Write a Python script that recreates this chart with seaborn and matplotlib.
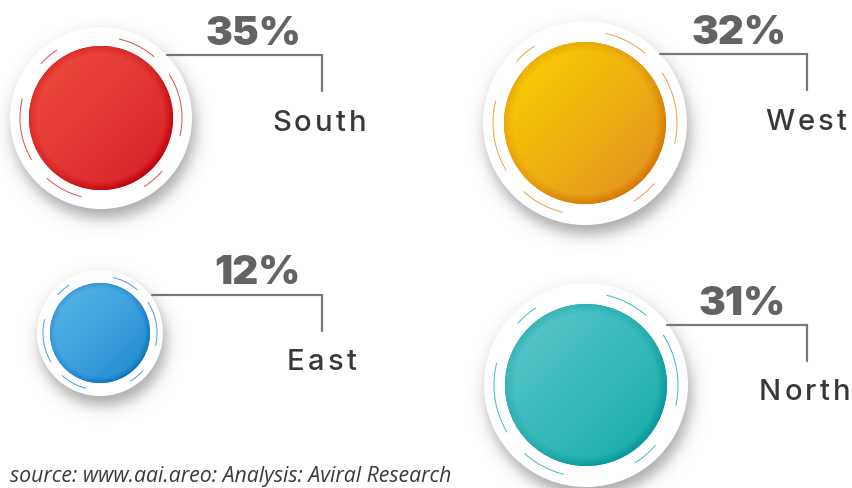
import numpy as np
import pandas as pd
import matplotlib
matplotlib.use("Agg")
import matplotlib.pyplot as plt
from matplotlib.patches import Circle
from matplotlib.colors import to_rgb
import seaborn as sns

# ---- data ----
regions = ["South", "West", "East", "North"]
shares = [35, 32, 12, 31]
share_labels = [f"{v}%" for v in shares]
source_note = "source: www.aai.areo: Analysis: Aviral Research"

# ---- layout (pixel coordinates, y grows downward) ----
W, H = 853, 488
centers = {"South": (101, 118), "West": (585, 123), "East": (100, 333), "North": (586, 385)}
bubble_r = {"South": 72, "West": 81, "East": 50, "North": 81}
plate_r = {"South": 91, "West": 102, "East": 63, "North": 102}
ring_r = {"South": 81, "West": 92, "East": 57, "North": 92}
connectors = {
    "South": [(167, 55), (322, 55), (322, 91)],
    "West": [(660, 54), (807, 54), (807, 90)],
    "East": [(152, 295), (322, 295), (322, 331)],
    "North": [(667, 325), (807, 325), (807, 361)],
}
pct_anchor = {"South": (253, 45), "West": (739, 44), "East": (257, 284), "North": (742, 315)}
name_anchor = {"South": (272, 131), "West": (765, 130), "East": (287, 370), "North": (759, 400)}
# light (top-left), deep (bottom-right), rim
colors = {
    "South": ("#F05040", "#D41F27", "#C2000C"),
    "West": ("#FDD600", "#DF8C22", "#D57800"),
    "East": ("#5DBAEA", "#1D88CE", "#0E72BC"),
    "North": ("#60C9D1", "#10AAA6", "#08979A"),
}
# decorative ring segments, degrees (counter-clockwise on screen)
ring_segments = [(123, 138), (49, 77), (-13, 33), (-58, -41), (-132, -104), (166, 211)]

sns.set_theme(style="white")
plt.rcParams["font.family"] = ["Inter", "DejaVu Sans"]

fig = plt.figure(figsize=(W / 100, H / 100), dpi=100)
ax = fig.add_axes([0, 0, 1, 1])
ax.set_xlim(0, W)
ax.set_ylim(H, 0)
ax.set_aspect("equal")
ax.axis("off")

# soft drop shadow under the white plates
yy, xx = np.mgrid[0:H, 0:W] + 0.5
shadow = np.zeros((H, W))
for reg in regions:
    cx, cy = centers[reg]
    d = np.hypot(xx - (cx + 3), yy - (cy + 9))
    a = 0.34 / (1 + np.exp((d - plate_r[reg]) / 4.5))
    shadow = np.maximum(shadow, a)
shadow_img = np.zeros((H, W, 4))
shadow_img[..., 3] = shadow
ax.imshow(shadow_img, extent=[0, W, H, 0], zorder=1, interpolation="bilinear")

for reg in regions:
    cx, cy = centers[reg]
    ax.add_patch(Circle((cx, cy), plate_r[reg], facecolor="white", edgecolor="none", zorder=2))

# base bubbles through seaborn
df = pd.DataFrame({
    "region": regions,
    "share": shares,
    "x": [centers[r][0] for r in regions],
    "y": [centers[r][1] for r in regions],
})
sizes = {r: (2 * bubble_r[r] * 0.72) ** 2 for r in regions}
sns.scatterplot(data=df, x="x", y="y", hue="region", size="region", sizes=sizes,
                palette={r: colors[r][2] for r in regions}, linewidth=0,
                legend=False, ax=ax, zorder=3)
ax.set_xlim(0, W)
ax.set_ylim(H, 0)
ax.axis("off")

# glossy gradient fill on each bubble
for reg in regions:
    cx, cy = centers[reg]
    r = bubble_r[reg]
    n = 300
    v, u = np.mgrid[0:n, 0:n] / (n - 1)
    t = np.clip((u + v) / 2, 0, 1)
    c0, c1, c2 = (np.array(to_rgb(c)) for c in colors[reg])
    img = c0 * (1 - t[..., None]) + c1 * t[..., None]
    px, py = (u - 0.5) * 2, (v - 0.5) * 2
    rr = np.hypot(px, py)
    facing = np.clip((px + py) / np.sqrt(2) / np.maximum(rr, 1e-6), 0, 1)
    rim = np.clip((rr - 0.88) / 0.12, 0, 1) * (0.35 + 0.65 * facing)
    img = img * (1 - rim[..., None]) + c2 * rim[..., None]
    clip = Circle((cx, cy), r, transform=ax.transData)
    im = ax.imshow(img, extent=[cx - r, cx + r, cy + r, cy - r], zorder=4, interpolation="bilinear")
    im.set_clip_path(clip)

    # thin ring segments
    R = ring_r[reg]
    for a0, a1 in ring_segments:
        ang = np.radians(np.linspace(a0, a1, 40))
        ax.plot(cx + R * np.cos(ang), cy - R * np.sin(ang), color=colors[reg][1],
                lw=0.7, alpha=0.8, zorder=5, solid_capstyle="butt")

    # connector
    pts = np.array(connectors[reg])
    ax.plot(pts[:, 0], pts[:, 1], color="#787878", lw=1.6, zorder=5, solid_joinstyle="miter")

renderer = fig.canvas.get_renderer()


def spaced_text(x, y, s, gap, **kw):
    cur = x
    for ch in s:
        t = ax.text(cur, y, ch, ha="left", va="baseline", **kw)
        bb = t.get_window_extent(renderer)
        cur += bb.width + gap


for reg, lab in zip(regions, share_labels):
    px, py = pct_anchor[reg]
    ax.text(px, py, lab, ha="center", va="baseline", fontsize=29, fontweight="black",
            color="#636363", zorder=6)
    nx, ny = name_anchor[reg]
    spaced_text(nx, ny, reg, 3.2, fontsize=21, fontweight="medium", color="#383838", zorder=6)

ax.text(10, 482, source_note, ha="left", va="baseline", fontsize=15.3, style="italic",
        color="#3a3a3a", zorder=6, family=["Open Sans", "DejaVu Sans"])

fig.savefig("out.png", dpi=100)
